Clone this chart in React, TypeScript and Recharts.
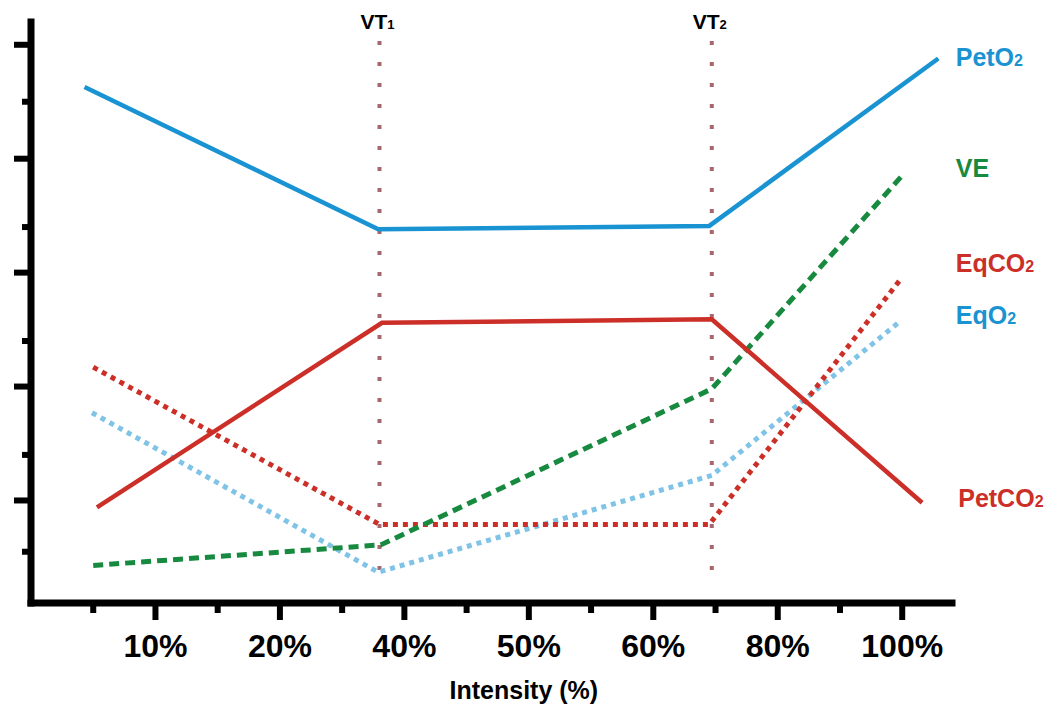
import { LineChart, Line, XAxis, YAxis, ReferenceLine, ReferenceDot } from "recharts";

const FONT = '"Liberation Sans", Arial, Helvetica, sans-serif';

// x axis: tick positions (index units), labels on the major ones
const majorX = [1, 2, 3, 4, 5, 6, 7];
const intensityLabels = ["10%", "20%", "40%", "50%", "60%", "80%", "100%"];
const minorX = [0.5, 1.5, 2.5, 3.5, 4.5, 5.5, 6.5];

// y axis: unlabelled ticks
const majorY = [1, 2, 3, 4, 5];
const minorY = [0.55, 1.4, 2.4, 3.4, 4.5];

// series
const petO2X = [0.43, 2.79, 5.45, 7.29];
const petO2Y = [4.63, 3.38, 3.41, 4.88];
const veX = [0.5, 2.81, 5.47, 6.99];
const veY = [0.43, 0.61, 1.98, 3.84];
const eqCO2X = [0.5, 2.8, 5.45, 7.0];
const eqCO2Y = [2.17, 0.79, 0.79, 2.96];
const eqO2X = [0.49, 2.79, 5.47, 6.98];
const eqO2Y = [1.77, 0.37, 1.22, 2.57];
const petCO2X = [0.53, 2.82, 5.47, 7.16];
const petCO2Y = [0.94, 2.56, 2.59, 0.98];

// ventilatory thresholds
const vtX = [2.8, 5.47];
const vtSub = ["1", "2"];

// series labels on the right
const labelMain = ["PetO", "VE", "EqCO", "EqO", "PetCO"];
const labelSub = ["2", "", "2", "2", "2"];
const labelX = [7.43, 7.43, 7.43, 7.43, 7.45];
const labelY = [4.89, 3.92, 3.085, 2.63, 1.02];

// axis title position (centre x, baseline y)
const titleX = 3.96;
const titleY = -0.74;

const BLUE = "#1a93d2";
const LIGHT_BLUE = "#7fc3e6";
const GREEN = "#178a3f";
const RED = "#cc2f27";
const VT_COLOR = "#a8676f";
const labelColor = [BLUE, GREEN, RED, BLUE, RED];

const toPoints = (xs: number[], ys: number[]) => xs.map((x, i) => ({ x, y: ys[i] }));

const XTick = (props: any) => {
  const v = props.payload.value;
  const idx = majorX.indexOf(v);
  const major = idx >= 0;
  return (
    <g>
      <line x1={props.x} x2={props.x} y1={props.y} y2={props.y + (major ? 17 : 10)} stroke="#000" strokeWidth={6} />
      {major && (
        <text x={props.x} y={props.y + 54} textAnchor="middle" fontFamily={FONT} fontWeight="bold" fontSize={32} fill="#000">
          {intensityLabels[idx]}
        </text>
      )}
    </g>
  );
};

const YTick = (props: any) => {
  const major = majorY.includes(props.payload.value);
  return <line x1={props.x - (major ? 17 : 9)} x2={props.x} y1={props.y} y2={props.y} stroke="#000" strokeWidth={6} />;
};

const SubLabel = ({ x, y, main, sub, color, size, subSize, anchor }: any) => (
  <text x={x} y={y} fill={color} fontFamily={FONT} fontWeight="bold" fontSize={size} textAnchor={anchor}>
    {main}
    {sub && <tspan fontSize={subSize}>{sub}</tspan>}
  </text>
);

export default function App() {
  return (
    <div style={{ position: "absolute", left: 0, top: 0, width: 1051, height: 707, background: "#fff" }}>
      <LineChart width={1051} height={707} margin={{ top: 22, right: 99, bottom: 4, left: 1 }}>
        <XAxis
          type="number"
          dataKey="x"
          domain={[0, 7.4]}
          allowDataOverflow
          ticks={[...minorX, ...majorX].sort((a, b) => a - b)}
          interval={0}
          height={100}
          tickSize={0}
          tickMargin={0}
          tickLine={false}
          axisLine={{ stroke: "#000", strokeWidth: 7, strokeLinecap: "square" }}
          tick={<XTick />}
        />
        <YAxis
          type="number"
          domain={[0.1, 5.2]}
          allowDataOverflow
          ticks={[...minorY, ...majorY].sort((a, b) => a - b)}
          interval={0}
          width={30}
          tickSize={0}
          tickMargin={0}
          tickLine={false}
          axisLine={{ stroke: "#000", strokeWidth: 7, strokeLinecap: "square" }}
          tick={<YTick />}
        />
        {vtX.map((x, i) => (
          <ReferenceLine
            key={"vt" + i}
            segment={[{ x, y: 0.39 }, { x, y: 5.1 }]}
            stroke={VT_COLOR}
            strokeWidth={4}
            strokeDasharray="4 17"
            ifOverflow="visible"
          />
        ))}
        {vtX.map((x, i) => (
          <ReferenceDot
            key={"vtl" + i}
            x={x}
            y={5.2}
            r={0}
            fill="none"
            stroke="none"
            ifOverflow="visible"
            label={(p: any) => (
              <SubLabel x={p.viewBox.x - 2} y={p.viewBox.y + 7} main="VT" sub={vtSub[i]} color="#000" size={21} subSize={13} anchor="middle" />
            )}
          />
        ))}
        <Line data={toPoints(eqO2X, eqO2Y)} dataKey="y" type="linear" stroke={LIGHT_BLUE} strokeWidth={5} strokeDasharray="5 5" dot={false} activeDot={false} isAnimationActive={false} />
        <Line data={toPoints(eqCO2X, eqCO2Y)} dataKey="y" type="linear" stroke={RED} strokeWidth={5} strokeDasharray="5 5" dot={false} activeDot={false} isAnimationActive={false} />
        <Line data={toPoints(veX, veY)} dataKey="y" type="linear" stroke={GREEN} strokeWidth={5} strokeDasharray="10 6" dot={false} activeDot={false} isAnimationActive={false} />
        <Line data={toPoints(petCO2X, petCO2Y)} dataKey="y" type="linear" stroke={RED} strokeWidth={4.5} dot={false} activeDot={false} isAnimationActive={false} />
        <Line data={toPoints(petO2X, petO2Y)} dataKey="y" type="linear" stroke={BLUE} strokeWidth={4.5} dot={false} activeDot={false} isAnimationActive={false} />
        {labelMain.map((m, i) => (
          <ReferenceDot
            key={"lab" + i}
            x={labelX[i]}
            y={labelY[i]}
            r={0}
            fill="none"
            stroke="none"
            ifOverflow="visible"
            label={(p: any) => (
              <SubLabel x={p.viewBox.x} y={p.viewBox.y + 9} main={m} sub={labelSub[i]} color={labelColor[i]} size={25} subSize={16} anchor="start" />
            )}
          />
        ))}
        <ReferenceDot
          x={titleX}
          y={titleY}
          r={0}
          fill="none"
          stroke="none"
          ifOverflow="visible"
          label={(p: any) => (
            <text x={p.viewBox.x} y={p.viewBox.y} textAnchor="middle" fontFamily={FONT} fontWeight="bold" fontSize={25} fill="#000">
              Intensity (%)
            </text>
          )}
        />
      </LineChart>
    </div>
  );
}
